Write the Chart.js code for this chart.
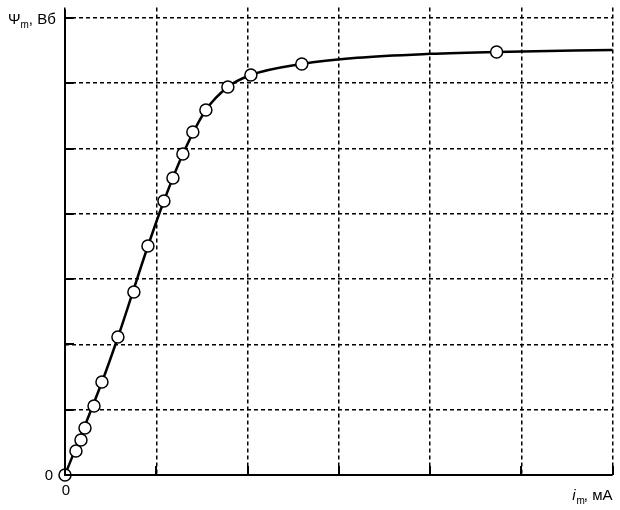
<!DOCTYPE html>
<html>
<head>
<meta charset="utf-8">
<script src="https://cdn.jsdelivr.net/npm/chart.js@4.4.0/dist/chart.umd.min.js"></script>
<style>
  html, body { margin: 0; padding: 0; background: #fff; }
  #wrap { width: 620px; height: 510px; }
</style>
</head>
<body>
<div id="wrap"><canvas id="chart"></canvas></div>
<script>
// measured points (grid divisions)
const pointI = [0, 0.12, 0.175, 0.219, 0.318, 0.405, 0.58, 0.755, 0.909, 1.084, 1.183, 1.292, 1.401, 1.544, 1.785, 2.037, 2.595, 4.73];
const pointPsi = [0, 0.368, 0.536, 0.72, 1.057, 1.424, 2.114, 2.803, 3.507, 4.197, 4.549, 4.917, 5.253, 5.59, 5.943, 6.126, 6.295, 6.479];

// smooth fitted curve
const curveI = [0, 0.405, 0.58, 0.909, 1.084, 1.292, 1.544, 1.785, 2.037, 2.595, 3.2, 4.0, 4.73, 6.0];
const curvePsi = [0, 1.424, 2.11, 3.507, 4.197, 4.917, 5.59, 5.943, 6.126, 6.295, 6.39, 6.45, 6.48, 6.51];

const xTickValues = [0, 1, 2, 3, 4, 5, 6];
const yTickValues = [0, 1, 2, 3, 4, 5, 6, 7];

const FONT = '15px "Liberation Sans", Arial, sans-serif';
const SUB_FONT = '10px "Liberation Sans", Arial, sans-serif';

const toXY = (xs, ys) => xs.map((x, i) => ({ x: x, y: ys[i] }));

// solid axes, inward ticks, zero labels and axis titles
const decorations = {
  id: "decorations",
  afterDraw(chart) {
    const ctx = chart.ctx;
    const xs = chart.scales.x;
    const ys = chart.scales.y;
    const { left, right, top, bottom } = chart.chartArea;

    ctx.save();
    ctx.strokeStyle = "#000";
    ctx.lineWidth = 2;
    ctx.setLineDash([]);
    ctx.beginPath();
    ctx.moveTo(left, top + 2);
    ctx.lineTo(left, bottom);
    ctx.lineTo(right, bottom);
    ctx.stroke();

    xTickValues.slice(1).forEach((v) => {
      const px = Math.round(xs.getPixelForValue(v));
      ctx.beginPath();
      ctx.moveTo(px, bottom);
      ctx.lineTo(px, bottom - 9);
      ctx.stroke();
    });
    yTickValues.slice(1).forEach((v) => {
      const py = Math.round(ys.getPixelForValue(v));
      ctx.beginPath();
      ctx.moveTo(left, py);
      ctx.lineTo(left + 9, py);
      ctx.stroke();
    });

    ctx.fillStyle = "#000";
    ctx.font = FONT;
    ctx.textBaseline = "middle";
    ctx.textAlign = "center";
    ctx.fillText("0", left - 16, bottom + 1);
    ctx.fillText("0", left + 1, bottom + 16);

    // y title: Ψm, Вб
    ctx.textAlign = "left";
    ctx.textBaseline = "alphabetic";
    let x = 8;
    ctx.font = FONT;
    ctx.fillText("Ψ", x, 24);
    x += ctx.measureText("Ψ").width;
    ctx.font = SUB_FONT;
    ctx.fillText("m", x, 28);
    x += ctx.measureText("m").width;
    ctx.font = FONT;
    ctx.fillText(", Вб", x, 24);

    // x title: im, мА (right aligned to the plot edge)
    ctx.font = FONT;
    const w3 = ctx.measureText(", мА").width;
    ctx.font = SUB_FONT;
    const w2 = ctx.measureText("m").width;
    ctx.font = "italic " + FONT;
    const w1 = ctx.measureText("i").width;
    let xx = right - w1 - w2 - w3;
    ctx.fillText("i", xx, 500);
    xx += w1 + 1;
    ctx.font = SUB_FONT;
    ctx.fillText("m", xx, 504);
    xx += w2;
    ctx.font = FONT;
    ctx.fillText(", мА", xx - 1, 500);
    ctx.restore();
  },
};

new Chart(document.getElementById("chart"), {
  type: "scatter",
  data: {
    datasets: [
      {
        label: "points",
        data: toXY(pointI, pointPsi),
        pointRadius: 6,
        pointHoverRadius: 6,
        pointBorderWidth: 1.5,
        pointBorderColor: "#000",
        pointBackgroundColor: "#fff",
        showLine: false,
        clip: false,
        order: 0,
      },
      {
        label: "curve",
        data: toXY(curveI, curvePsi),
        showLine: true,
        borderColor: "#000",
        borderWidth: 2.5,
        pointRadius: 0,
        cubicInterpolationMode: "monotone",
        clip: false,
        order: 1,
      },
    ],
  },
  options: {
    responsive: true,
    maintainAspectRatio: false,
    animation: false,
    layout: { padding: { top: 0, right: 7, left: 0, bottom: 0 } },
    plugins: { legend: { display: false }, tooltip: { enabled: false } },
    scales: {
      x: {
        type: "linear",
        min: 0,
        max: 6,
        ticks: { display: false, stepSize: 1 },
        grid: { color: "#000", lineWidth: 1.5, drawTicks: false },
        border: { display: false, dash: [4, 3] },
        afterFit(scale) { scale.height = 35; },
      },
      y: {
        type: "linear",
        min: 0,
        max: 7.16,
        ticks: { display: false, stepSize: 1, includeBounds: false },
        grid: { color: "#000", lineWidth: 1.5, drawTicks: false },
        border: { display: false, dash: [4, 3] },
        afterFit(scale) { scale.width = 65; },
      },
    },
  },
  plugins: [decorations],
});
</script>
</body>
</html>
